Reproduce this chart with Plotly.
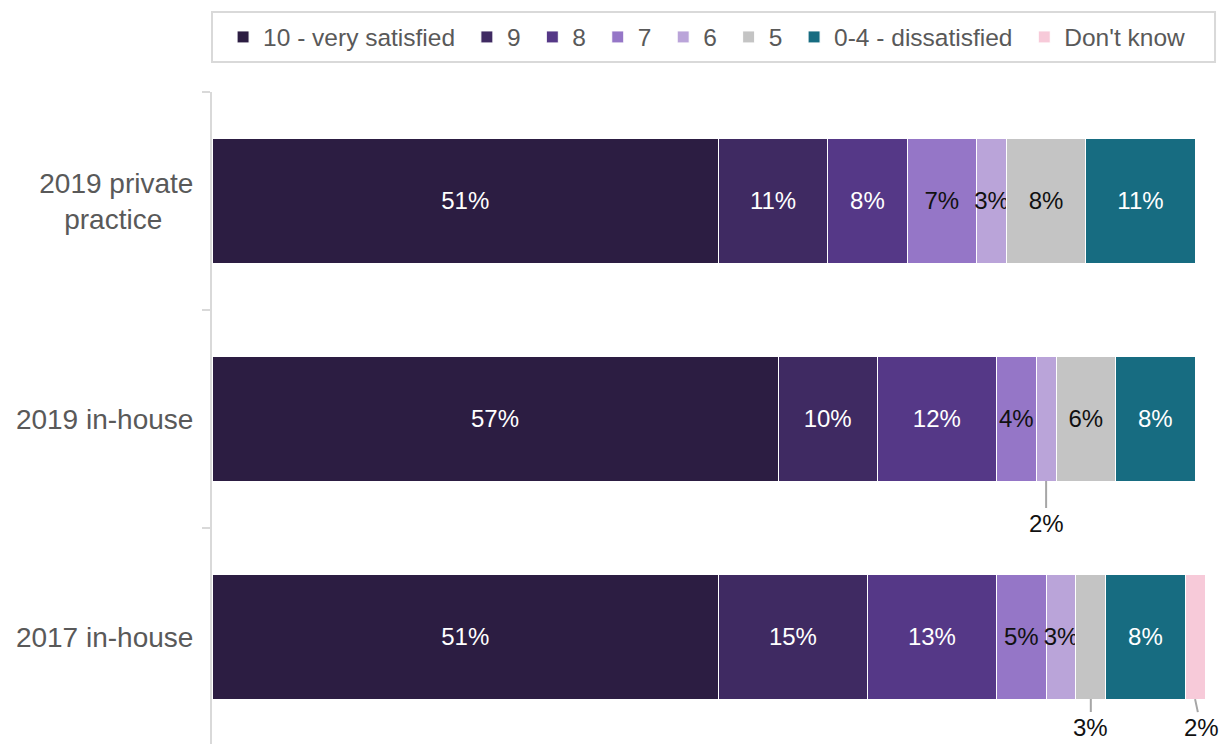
import plotly.graph_objects as go

# Satisfaction scores by respondent group (percent of respondents)
categories = ["2019 private practice", "2019 in-house", "2017 in-house"]
tick_labels = ["2019 private<br>practice\u00a0\u00a0\u00a0\u00a0", "2019 in-house", "2017 in-house"]

series_names = ["10 - very satisfied", "9", "8", "7", "6", "5", "0-4 - dissatisfied", "Don't know"]
score_10 = [51, 57, 51]
score_9 = [11, 10, 15]
score_8 = [8, 12, 13]
score_7 = [7, 4, 5]
score_6 = [3, 2, 3]
score_5 = [8, 6, 3]
score_0_4 = [11, 8, 8]
dont_know = [0, 0, 2]
series_values = [score_10, score_9, score_8, score_7, score_6, score_5, score_0_4, dont_know]

colors = ["#2C1D42", "#3F2A62", "#553887", "#9576C7", "#BAA4D9", "#C4C4C4", "#176C81", "#F7CAD9"]
label_colors = ["white", "white", "white", "#111111", "#111111", "#111111", "white", "#111111"]

# segments too narrow for an inside label get a callout below the bar
# (category, series, horizontal offset of the label, vertical drop of the label)
callouts = [("2019 in-house", "6", 0, 42), ("2017 in-house", "5", 0, 28), ("2017 in-house", "Don't know", 6, 28)]
callout_keys = {(c, s) for c, s, _, _ in callouts}

BAR_WIDTH = 0.57
LEGEND_PAD = "\u00a0"

fig = go.Figure()
for i, (name, vals, col, tcol) in enumerate(zip(series_names, series_values, colors, label_colors)):
    text = []
    for cat, v in zip(categories, vals):
        if v == 0 or (cat, name) in callout_keys:
            text.append("")
        else:
            text.append(f"{v}%")
    legend_name = name + (LEGEND_PAD if i < len(series_names) - 1 else "")
    fig.add_trace(go.Bar(
        name=legend_name, y=categories, x=vals, orientation="h",
        marker=dict(color=col, line=dict(color="white", width=1)),
        text=text, textposition="inside", insidetextanchor="middle", textangle=0,
        textfont=dict(size=24, color=tcol),
        hoverinfo="skip",
    ))

# callout annotations with leader lines
for cat, name, dx, dy in callouts:
    ci = categories.index(cat)
    si = series_names.index(name)
    start = sum(series_values[k][ci] for k in range(si))
    v = series_values[si][ci]
    fig.add_annotation(
        x=start + v / 2, y=ci + BAR_WIDTH / 2, xref="x", yref="y",
        text=f"{v}%", showarrow=True, arrowhead=0, arrowwidth=2, arrowcolor="#A6A6A6",
        ax=dx, ay=dy, standoff=0, font=dict(size=24, color="#111111"),
    )

# legend frame
fig.add_shape(type="rect", xref="paper", yref="paper",
              x0=0, x1=1.0101, y0=1.046, y1=1.1227,
              line=dict(color="#D9D9D9", width=2), fillcolor="rgba(0,0,0,0)", layer="below")

fig.update_layout(
    width=1219, height=744,
    margin=dict(l=212, r=14, t=92, b=0, autoexpand=False),
    barmode="stack", bargap=1 - BAR_WIDTH,
    plot_bgcolor="white", paper_bgcolor="white",
    font=dict(family="Liberation Sans, Arial, sans-serif", color="#595959"),
    uniformtext=dict(minsize=24, mode="show"),
    showlegend=True,
    legend=dict(
        orientation="h", traceorder="normal",
        xref="container", yref="container",
        x=0.183, xanchor="left", y=1 - 37 / 744, yanchor="middle",
        font=dict(size=24.5, color="#595959"),
        itemwidth=30, bgcolor="rgba(0,0,0,0)",
    ),
    xaxis=dict(range=[0, 100], visible=False, fixedrange=True),
    yaxis=dict(
        categoryorder="array", categoryarray=categories,
        tickmode="array", tickvals=categories, ticktext=tick_labels,
        range=[2.491, -0.5],
        showline=True, linecolor="#D9D9D9", linewidth=2,
        ticks="outside", tickson="boundaries", ticklen=8, tickcolor="#D9D9D9", tickwidth=2,
        tickfont=dict(size=28, color="#595959"),
        ticklabelstandoff=11,
        showgrid=False, zeroline=False, automargin=False,
    ),
)

fig.write_html("out.html")
